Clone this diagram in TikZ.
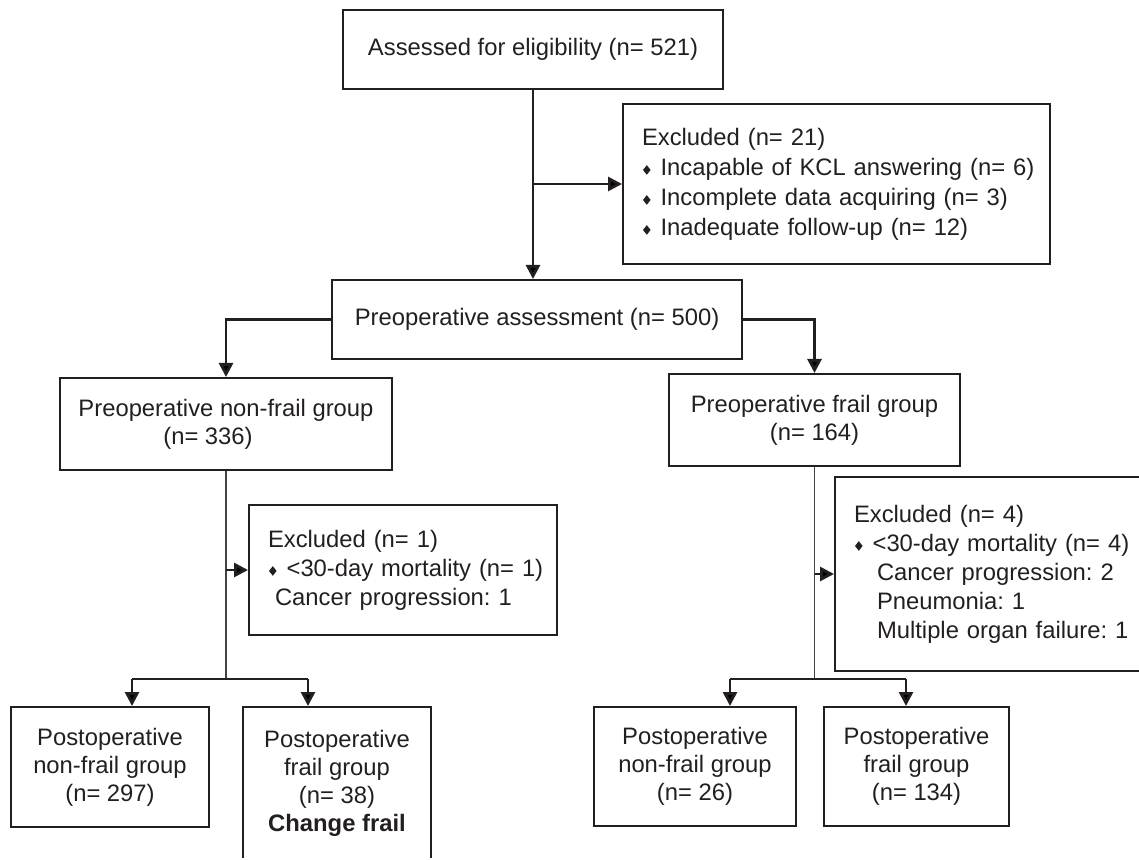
\documentclass[tikz,border=0pt]{standalone}
\usepackage{fontspec}
\setmainfont{Liberation Sans}
\usetikzlibrary{arrows.meta}

\definecolor{ink}{RGB}{35,31,32}

% small diamond bullet
\newcommand{\dmd}{\tikz[baseline=0pt]\fill[ink] (0,2.6pt) -- (1.9pt,5pt) -- (3.8pt,2.6pt) -- (1.9pt,0.2pt) -- cycle;}
\newcommand{\itm}[1]{\mbox{\hspace{0.5pt}\dmd\hspace{5pt}#1}}

\tikzset{
  box/.style={draw=ink, line width=1pt, text=ink, align=center, inner sep=0pt,
    font=\fontsize{11.9}{14}\selectfont\frenchspacing},
  exbox/.style={box, align=left, inner xsep=9.5pt},
  arr/.style={draw=ink, line width=1.4pt, -{Triangle[length=7pt,width=7pt]}},
  thinline/.style={draw=ink!85, line width=0.6pt},
  hline/.style={draw=ink, line width=0.9pt}
}

\begin{document}
\begin{tikzpicture}[x=0.5pt, y=-0.5pt]
  \useasboundingbox (0,0) rectangle (1139,860);
  \clip (0,0) rectangle (1139,857.5);

  % Boxes
  \node[box, minimum width=190pt, minimum height=39.5pt] (assess) at (533,49.5)
    {Assessed for eligibility (n= 521)};
  \node[exbox, text width=194.5pt, minimum height=80pt,
    font=\fontsize{11.9}{15}\selectfont\frenchspacing] (excl21) at (836.5,184)
    {Excluded (n= 21)\\
     \itm{Incapable of KCL answering (n= 6)}\\
     \itm{Incomplete data acquiring (n= 3)}\\
     \itm{Inadequate follow-up (n= 12)}};
  \node[box, minimum width=205pt, minimum height=39.5pt] (preop) at (537,319.5)
    {Preoperative assessment (n= 500)};
  \node[box, minimum width=166pt, minimum height=46pt] (nonfrail) at (226,424)
    {Preoperative non-frail group\\(n= 336)\hspace*{18pt}};
  \node[box, minimum width=145.5pt, minimum height=46pt] (frail) at (814.5,420)
    {Preoperative frail group\\(n= 164)};
  \node[exbox, text width=135pt, minimum height=65pt,
    font=\fontsize{11.9}{14.5}\selectfont\frenchspacing] (excl1) at (403,570)
    {Excluded (n= 1)\\
     \itm{<30-day mortality (n= 1)}\\
     \mbox{\hspace*{3.5pt}Cancer progression: 1}};
  \node[exbox, text width=138pt, minimum height=97pt,
    font=\fontsize{11.9}{14.5}\selectfont\frenchspacing] (excl4) at (992,574)
    {Excluded (n= 4)\\
     \itm{<30-day mortality (n= 4)}\\
     \mbox{\hspace*{11.5pt}Cancer progression: 2}\\
     \mbox{\hspace*{11.5pt}Pneumonia: 1}\\
     \mbox{\hspace*{11.5pt}Multiple organ failure: 1}};
  \node[box, minimum width=99pt, minimum height=60pt] (postA) at (110,767)
    {Postoperative\\non-frail group\\(n= 297)};
  \node[box, minimum width=94pt, minimum height=76pt] (postB) at (337,783)
    {Postoperative\\frail group\\(n= 38)\\\textbf{Change frail}};
  \node[box, minimum width=101pt, minimum height=59.5pt] (postC) at (695,766.5)
    {Postoperative\\non-frail group\\(n= 26)};
  \node[box, minimum width=92.5pt, minimum height=59.5pt] (postD) at (916.5,766.5)
    {Postoperative\\frail group\\(n= 134)};

  % Upper arrows
  \draw[arr] (assess.south) -- (assess.south |- preop.north);
  \draw[arr] (assess.south |- excl21.west) -- (excl21.west);
  \draw[arr] (preop.west) -| (nonfrail.north);
  \draw[arr] (preop.east) -| (frail.north);

  % Branch points
  \coordinate (aL1) at (132,679);
  \coordinate (aL2) at (308,679);
  \coordinate (aR1) at (730,679);
  \coordinate (aR2) at (906,679);

  % Left side
  \draw[thinline] (nonfrail.south) -- (nonfrail.south |- aL1);
  \draw[arr] (nonfrail.south |- excl1.west) -- (excl1.west);
  \draw[hline] (aL1) -- (aL2);
  \draw[arr] (aL1) -- (aL1 |- postA.north);
  \draw[arr] (aL2) -- (aL2 |- postB.north);

  % Right side
  \draw[thinline] (frail.south) -- (frail.south |- aR1);
  \draw[arr] (frail.south |- excl4.west) -- (excl4.west);
  \draw[hline] (aR1) -- (aR2);
  \draw[arr] (aR1) -- (aR1 |- postC.north);
  \draw[arr] (aR2) -- (aR2 |- postD.north);
\end{tikzpicture}
\end{document}
